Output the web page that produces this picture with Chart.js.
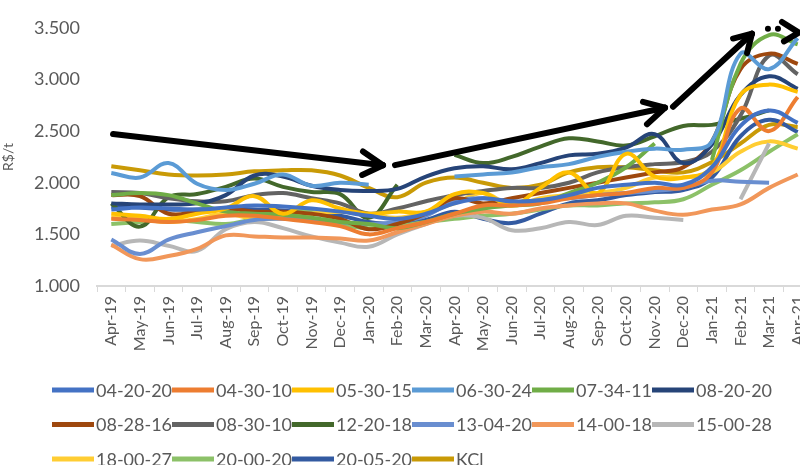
<!DOCTYPE html>
<html>
<head>
<meta charset="utf-8">
<script src="https://cdn.jsdelivr.net/npm/chart.js@4.4.1/dist/chart.umd.min.js"></script>
<style>
  html, body { margin: 0; padding: 0; background: #ffffff; }
  #wrap { width: 800px; height: 465px; overflow: hidden; position: relative; }
  canvas { display: block; }
</style>
</head>
<body>
<div id="wrap"><canvas id="chart" width="830" height="465"></canvas></div>
<script>
// Monthly fertilizer prices, R$/t
const months = ['Apr-19','May-19','Jun-19','Jul-19','Aug-19','Sep-19','Oct-19','Nov-19','Dec-19',
  'Jan-20','Feb-20','Mar-20','Apr-20','May-20','Jun-20','Jul-20','Aug-20','Sep-20','Oct-20','Nov-20','Dec-20',
  'Jan-21','Feb-21','Mar-21','Apr-21'];

const yTicks = [1000, 1500, 2000, 2500, 3000, 3500];

const s04_20_20 = [1740,1760,1750,1740,1760,1780,1770,1750,1720,1680,1650,1700,1800,1850,1820,1830,1880,1950,1980,2000,1980,2150,2550,2700,2580];
const s04_30_10 = [1650,1640,1620,1640,1680,1680,1650,1620,1580,1500,1560,1620,1700,1780,1780,1800,1850,1880,1900,1950,1950,2100,2720,2500,2830];
const s05_30_15 = [1700,1680,1650,1700,1750,1870,1700,1830,1750,1700,1720,1720,1890,1900,1780,1950,2100,1900,2280,2060,2050,2150,2850,2950,2880];
const s06_30_24 = [2095,2050,2190,1990,1930,1990,2080,1970,2000,1980,null,null,2060,2080,2100,2150,2180,2250,2300,2330,2320,2400,3250,3100,3400];
const s07_34_11 = [1880,1900,1880,1800,1720,1700,1690,1660,1620,1600,1560,1620,1700,1750,1780,1800,1900,2000,2150,2380,null,2220,3150,3430,3340];
const s08_20_20 = [1800,1790,1790,1800,1880,2070,2060,1970,1930,1920,1940,2060,2140,2160,2130,2190,2265,2280,2340,2470,2190,2370,2850,3030,2910];
const s08_28_16 = [1880,1870,1700,1720,1750,1720,1720,1700,1650,1550,1600,1700,1850,1800,1850,1900,1950,2000,2050,2100,2150,2400,3100,3250,3150];
const s08_30_10 = [1910,1900,1850,1820,1820,1880,1900,1850,1800,1700,1750,1820,1880,1920,1950,1950,2000,2100,2150,2180,2200,2300,2650,3230,3050];
const s12_20_18 = [1800,1575,1860,1890,1960,2040,1960,1910,1890,1660,1980,null,2270,2190,2250,2350,2430,2400,2360,2450,2550,2560,2620,2700,null];
const s13_04_20 = [1450,1310,1450,1520,1580,1640,1650,1640,1620,1600,1620,1680,1820,1850,1800,1830,1850,1880,1900,1920,1950,2020,2010,2000,null];
const s14_00_18 = [1400,1260,1290,1360,1490,1480,1470,1470,1460,1440,1520,1600,1680,1720,1700,1750,1780,1800,1800,1730,1690,1740,1790,1950,2080];
const s15_00_28 = [1390,1440,1390,1340,1550,1620,1560,1480,1420,1380,1500,1600,1680,1660,1540,1560,1620,1590,1680,1660,1640,null,1840,2380,null];
const s18_00_27 = [1660,1650,1620,1650,1700,1650,1660,1700,1720,1700,1660,1720,1800,1900,1780,1850,1880,1900,1950,2050,2050,2100,2300,2400,2330];
const s20_00_20 = [1600,1620,1640,1620,1600,1650,1700,1720,1600,1560,1580,1620,1650,1680,1700,1740,1780,1780,1800,1810,1840,1980,2120,2300,2470];
const s20_05_20 = [1770,1760,1740,1740,1750,1740,1730,1700,1680,1620,1600,1640,1720,1650,1610,1700,1800,1830,1880,1910,1930,2050,2450,2610,2490];
const sKCl      = [2160,2120,2080,2070,2080,2110,2120,2120,2070,1950,1860,2000,2050,2000,1950,1980,2100,2150,2150,2120,2100,2200,2380,2560,2540];

const seriesNames = ['04-20-20','04-30-10','05-30-15','06-30-24','07-34-11','08-20-20',
  '08-28-16','08-30-10','12-20-18','13-04-20','14-00-18','15-00-28','18-00-27','20-00-20','20-05-20','KCl'];
const seriesValues = [s04_20_20, s04_30_10, s05_30_15, s06_30_24, s07_34_11, s08_20_20,
  s08_28_16, s08_30_10, s12_20_18, s13_04_20, s14_00_18, s15_00_28, s18_00_27, s20_00_20, s20_05_20, sKCl];
const seriesColors = ['#4472C4','#ED7D31','#FFC000','#5B9BD5','#70AD47','#264478',
  '#9E480E','#636363','#43682B','#698ED0','#F1975A','#B7B7B7','#FFCD33','#8CC168','#335AA1','#C99A06'];

// Trend arrows, in (month index, R$/t) units
const trendArrows = [
  { tail: [0.06, 2472], tip: [9.50, 2170], arms: [[8.80, 2302], [8.77, 2075]] },
  { tail: [9.92, 2170], tip: [19.36, 2726], arms: [[18.59, 2783], [18.73, 2566]] },
  { tail: [19.64, 2736], tip: [22.40, 3443], arms: [[21.74, 3396], [22.23, 3255]] }
];
const smileDots = [[22.96, 3491], [23.31, 3491]];
const smileMouth = [[23.45, 3557], [24.04, 3453], [23.52, 3368]];

const textColor = '#595959';
const uiFont = 'Lato, "Open Sans", sans-serif';

const datasets = seriesNames.map((name, i) => ({
  label: name,
  data: seriesValues[i],
  borderColor: seriesColors[i],
  backgroundColor: seriesColors[i],
  borderWidth: 4,
  pointRadius: 0,
  pointHoverRadius: 0,
  tension: 0.4,
  spanGaps: false
}));

// Bottom legend: six entries per row, short thick line sample before each name
const legendPlugin = {
  id: 'rowLegend',
  afterDraw(chart) {
    const ctx = chart.ctx;
    ctx.save();
    ctx.font = '18px ' + uiFont;
    ctx.textBaseline = 'middle';
    ctx.textAlign = 'left';
    chart.data.datasets.forEach((ds, i) => {
      const col = i % 6, row = Math.floor(i / 6);
      const x = 52 + col * 120;
      const y = 390 + row * 34.5;
      ctx.strokeStyle = ds.borderColor;
      ctx.lineWidth = 5;
      ctx.lineCap = 'butt';
      ctx.beginPath();
      ctx.moveTo(x, y);
      ctx.lineTo(x + 42, y);
      ctx.stroke();
      ctx.fillStyle = textColor;
      ctx.fillText(ds.label, x + 44, y + 1);
    });
    ctx.restore();
  }
};

// Hand-drawn style trend arrows over the lines
const arrowPlugin = {
  id: 'trendArrows',
  afterDatasetsDraw(chart) {
    const { ctx, scales: { x, y } } = chart;
    const px = p => [x.getPixelForValue(p[0]), y.getPixelForValue(p[1])];
    ctx.save();
    ctx.strokeStyle = '#000000';
    ctx.fillStyle = '#000000';
    ctx.lineWidth = 6;
    ctx.lineCap = 'round';
    ctx.lineJoin = 'round';
    trendArrows.forEach(a => {
      const t = px(a.tail), h = px(a.tip);
      ctx.beginPath();
      ctx.moveTo(t[0], t[1]);
      ctx.lineTo(h[0], h[1]);
      ctx.stroke();
      a.arms.forEach(arm => {
        const m = px(arm);
        ctx.beginPath();
        ctx.moveTo(m[0], m[1]);
        ctx.lineTo(h[0], h[1]);
        ctx.stroke();
      });
    });
    smileDots.forEach(d => {
      const p = px(d);
      ctx.beginPath();
      ctx.arc(p[0], p[1], 3, 0, Math.PI * 2);
      ctx.fill();
    });
    ctx.beginPath();
    smileMouth.forEach((d, i) => {
      const p = px(d);
      if (i === 0) ctx.moveTo(p[0], p[1]); else ctx.lineTo(p[0], p[1]);
    });
    ctx.stroke();
    ctx.restore();
  }
};

const fmtThousands = v => String(v).replace(/\B(?=(\d{3})+(?!\d))/g, '.');

new Chart(document.getElementById('chart'), {
  type: 'line',
  data: { labels: months, datasets },
  plugins: [legendPlugin, arrowPlugin],
  options: {
    responsive: false,
    animation: false,
    events: [],
    layout: { padding: { top: 21, right: 18, bottom: 109, left: 0 } },
    plugins: {
      legend: { display: false },
      tooltip: { enabled: false }
    },
    scales: {
      x: {
        type: 'category',
        offset: true,
        grid: {
          offset: true,
          drawOnChartArea: false,
          drawTicks: true,
          tickLength: 6,
          color: '#d9d9d9',
          lineWidth: 1
        },
        border: { display: true, color: '#d9d9d9', width: 2 },
        ticks: {
          autoSkip: false,
          minRotation: 90,
          maxRotation: 90,
          padding: 4,
          color: textColor,
          font: { family: uiFont, size: 16 }
        },
        afterFit(scale) { scale.height = 70; }
      },
      y: {
        min: yTicks[0],
        max: yTicks[yTicks.length - 1],
        afterBuildTicks(scale) { scale.ticks = yTicks.map(v => ({ value: v })); },
        grid: { display: false, drawTicks: false },
        border: { display: false },
        ticks: {
          padding: 17,
          color: textColor,
          font: { family: uiFont, size: 18 },
          callback: v => fmtThousands(v)
        },
        title: {
          display: true,
          text: 'R$/t',
          color: textColor,
          font: { family: uiFont, size: 14 },
          padding: { top: 0, bottom: 0 }
        },
        afterFit(scale) { scale.width = 97; }
      }
    }
  }
});
</script>
</body>
</html>
